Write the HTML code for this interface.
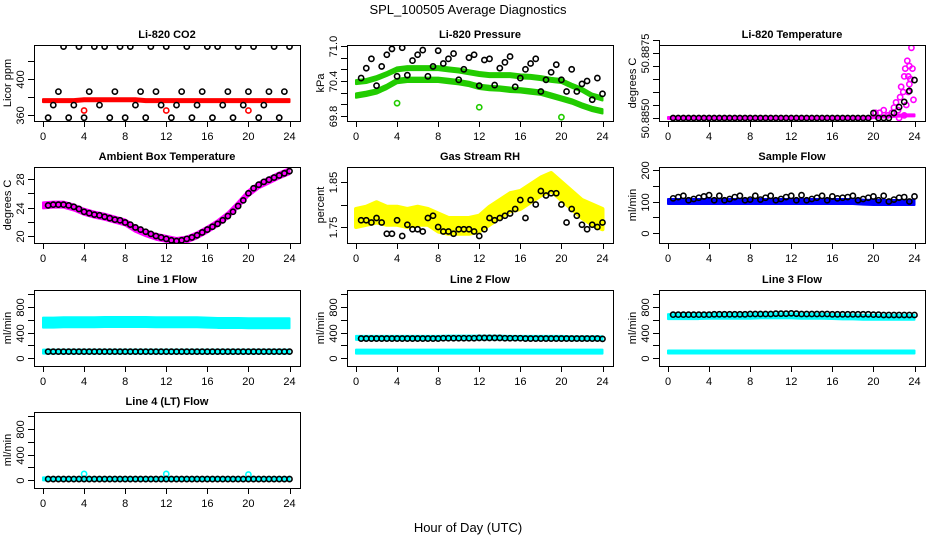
<!DOCTYPE html>
<html><head><meta charset="utf-8">
<style>
html,body{margin:0;padding:0;background:#fff;}
svg{display:block;font-family:"Liberation Sans",Arial,sans-serif;}
</style></head>
<body>
<svg id="chart" width="936" height="540" viewBox="0 0 936 540" xmlns="http://www.w3.org/2000/svg">
<rect width="936" height="540" fill="#fff"/>
<text x="468" y="14" text-anchor="middle" font-size="13">SPL_100505  Average Diagnostics</text>
<text x="468" y="532" text-anchor="middle" font-size="13">Hour of Day (UTC)</text>
</svg>
<script>
// ---------- data ----------
const xTicks = [0,4,8,12,16,20,24];
const bandHours = [0,1,2,3,4,5,6,7,8,9,10,11,12,13,14,15,16,17,18,19,20,21,22,23,24];
const pointHours = [0.5,1,1.5,2,2.5,3,3.5,4,4.5,5,5.5,6,6.5,7,7.5,8,8.5,9,9.5,10,10.5,11,11.5,12,12.5,13,13.5,14,14.5,15,15.5,16,16.5,17,17.5,18,18.5,19,19.5,20,20.5,21,21.5,22,22.5,23,23.5,24];

// CO2
const co2Band = [376,376,376,376,377,377,377,377,377,377,376,376,376,376,376,376,376,376,376,376,376,376,376,376,376];
const co2Black = [357,371,386,436,357,371,436,357,386,436,371,436,357,386,436,357,436,371,386,357,436,386,371,436,357,371,386,436,357,371,386,436,357,436,371,386,357,436,371,386,436,357,371,386,436,357,386,436];
const co2RedHours = [4,12,20];
const co2RedVals = [365,365,365];

// Pressure
const presUpper = [70.38,70.4,70.45,70.52,70.6,70.62,70.62,70.62,70.62,70.6,70.58,70.55,70.52,70.5,70.5,70.5,70.48,70.47,70.45,70.42,70.4,70.32,70.25,70.15,70.1];
const presLower = [70.15,70.18,70.22,70.3,70.4,70.42,70.42,70.42,70.42,70.4,70.38,70.35,70.3,70.28,70.27,70.25,70.24,70.22,70.2,70.15,70.1,70.05,69.98,69.92,69.88];
const presBlack = [70.45,70.62,70.78,70.32,70.65,70.85,70.95,70.48,70.97,70.5,70.75,70.85,70.93,70.48,70.65,70.92,70.7,70.78,70.87,70.42,70.6,70.8,70.85,70.32,70.76,70.78,70.33,70.62,70.72,70.82,70.3,70.45,70.6,70.7,70.78,70.22,70.42,70.55,70.68,70.42,70.22,70.6,70.22,70.35,70.4,70.08,70.45,70.18];
const presGreenHours = [4,12,20];
const presGreenVals = [70.02,69.95,69.78];

// Li-820 temperature
const tempBase = [50.8850,50.8850,50.8850,50.8850,50.8850,50.8850,50.8850,50.8850,50.8850,50.8850,50.8850,50.8850,50.8850,50.8850,50.8850,50.8850,50.8850,50.8850,50.8850,50.8850,50.88503,50.88506,50.88508,50.8851,50.8851];
const tempMagHours = [20.2,20.6,21,21.4,21.8,22,22.2,22.4,22.6,22.7,22.9,23,23.1,23.2,23.3,23.4,23.5,23.5,23.6,23.7,23.8,23.9,22.5,23.0,23.4,23.6];
const tempMagVals = [50.8852,50.8852,50.8853,50.8851,50.8852,50.8854,50.8856,50.8853,50.8858,50.8862,50.8860,50.8866,50.8869,50.8855,50.8872,50.8866,50.8863,50.8870,50.8879,50.8877,50.8869,50.8857,50.8850,50.8851,50.8860,50.8865];
const tempBlack = [50.8850,50.8850,50.8850,50.8850,50.8850,50.8850,50.8850,50.8850,50.8850,50.8850,50.8850,50.8850,50.8850,50.8850,50.8850,50.8850,50.8850,50.8850,50.8850,50.8850,50.8850,50.8850,50.8850,50.8850,50.8850,50.8850,50.8850,50.8850,50.8850,50.8850,50.8850,50.8850,50.8850,50.8850,50.8850,50.8850,50.8850,50.8850,50.8850,50.88519,50.8850,50.8850,50.8850,50.88519,50.88542,50.88562,50.88604,50.88646];

// Ambient box temperature
const ambBand = [24.3,24.4,24.4,24.0,23.4,23.0,22.7,22.3,21.9,21.0,20.4,19.9,19.6,19.3,19.5,20.1,20.9,21.8,22.9,24.4,26.0,27.1,27.8,28.5,29.1];
const ambBlack = [24.3,24.4,24.4,24.4,24.3,24.1,23.8,23.4,23.2,23.0,22.9,22.7,22.5,22.3,22.2,21.9,21.6,21.2,20.9,20.6,20.3,20.0,19.8,19.6,19.4,19.3,19.4,19.6,19.8,20.1,20.5,20.9,21.3,21.7,22.2,22.8,23.4,24.2,25.0,26.0,26.7,27.2,27.6,27.9,28.2,28.5,28.8,29.1];

// Gas stream RH
const rhUpper = [1.79,1.795,1.805,1.795,1.795,1.79,1.795,1.79,1.78,1.77,1.77,1.77,1.775,1.795,1.81,1.825,1.83,1.845,1.86,1.87,1.85,1.83,1.81,1.8,1.79];
const rhLower = [1.75,1.755,1.76,1.755,1.755,1.75,1.755,1.755,1.74,1.735,1.735,1.735,1.74,1.755,1.77,1.785,1.79,1.805,1.82,1.83,1.81,1.79,1.77,1.755,1.745];
const rhBlack = [1.765,1.765,1.76,1.77,1.76,1.735,1.735,1.765,1.73,1.755,1.745,1.745,1.74,1.77,1.775,1.75,1.74,1.74,1.735,1.745,1.745,1.745,1.74,1.73,1.745,1.77,1.765,1.77,1.775,1.78,1.79,1.81,1.77,1.81,1.8,1.83,1.82,1.825,1.825,1.8,1.76,1.79,1.775,1.755,1.745,1.755,1.75,1.76];

// Sample flow
const sampBand = [100,100,100,100,100,100,100,100,100,100,100,100,100,100,100,100,100,100,100,98,97,97,97,97,97];
const sampBlack = [110,114,118,104,108,112,116,120,104,118,104,108,114,118,104,106,118,106,112,118,104,108,114,118,104,120,104,108,112,118,104,116,110,112,114,118,104,108,112,116,104,118,100,106,112,114,100,116];

// Line flows
const l1High = [555,555,560,560,560,560,565,565,565,565,565,560,560,560,560,560,555,550,550,550,545,545,545,545,545];
const l1Low = [100,100,100,100,100,100,100,100,100,100,100,100,100,100,100,100,100,100,100,100,100,100,100,100,100];
const l1Black = Array(48).fill(100);
const l2High = [315,315,315,315,315,315,315,315,315,320,320,320,320,320,320,315,315,315,315,315,315,310,310,310,310];
const l2Low = [100,100,100,100,100,100,100,100,100,100,100,100,100,100,100,100,100,100,100,100,100,100,100,100,100];
const l2Black = [305,305,305,305,305,305,305,305,305,305,305,305,305,305,305,305,310,310,310,310,310,310,310,315,315,315,315,315,310,310,310,310,305,305,305,305,305,305,305,305,305,305,305,305,305,305,305,300];
const l3High = [650,650,650,650,655,655,655,655,655,660,660,660,660,655,655,655,650,645,645,640,640,640,640,640,640];
const l3Low = [95,95,95,95,95,95,95,95,95,95,95,95,95,95,95,95,95,95,95,95,95,95,95,95,95];
const l3Black = [680,680,680,680,680,680,680,680,685,685,685,685,685,685,685,690,690,690,690,690,695,695,695,700,695,690,690,690,690,690,690,685,685,685,685,685,685,685,685,680,680,675,675,675,675,675,675,675];
const l4Band = [18,18,18,18,18,18,18,18,18,18,18,18,18,18,18,18,18,18,18,18,18,18,18,18,18];
const l4Black = Array(48).fill(15);
const l4OutHours = [4,12,20];
const l4OutVals = [95,95,85];

// ---------- drawing ----------
const svg = document.getElementById('chart');
const NS = 'http://www.w3.org/2000/svg';
const colLeft = [34,347,659], rowTop = [45,167,290,412], BW = 266, BH = 76;
function mk(tag, attrs, parent){const e=document.createElementNS(NS,tag);for(const k in attrs)e.setAttribute(k,attrs[k]);(parent||svg).appendChild(e);return e;}

function makePanel(name, col, row, title, ylab, a1, a2, ticks, labels){
  const L=colLeft[col], T=rowTop[row];
  const g=mk('g',{});
  
  
  const xs=t=>L+9+t*(246.5/24);
  const ys=v=>T+a1[1]+(v-a1[0])*(a2[1]-a1[1])/(a2[0]-a1[0]);
  const clip='clip-'+name;
  const cp=mk('clipPath',{id:clip},g); mk('rect',{x:L,y:T,width:BW,height:BH},cp);
  const plot=mk('g',{'clip-path':'url(#'+clip+')'},g);
  
  
  const box=mk('rect',{x:L+0.5,y:T+0.5,width:BW,height:BH,fill:'none',stroke:'#000','stroke-width':1},g);
  
  
  const tt=mk('text',{x:L+BW/2,y:T-7,'text-anchor':'middle','font-size':11,'font-weight':'bold'},g);
  tt.textContent=title;
  
  
  const xa=mk('g',{},g);
  
  
  mk('line',{x1:xs(0),x2:xs(24),y1:T+BH+0.5,y2:T+BH+0.5,stroke:'#000'},xa);
  xTicks.forEach(t=>{
    mk('line',{x1:Math.round(xs(t))+0.5,x2:Math.round(xs(t))+0.5,y1:T+BH,y2:T+BH+6,stroke:'#000'},xa);
    const tx=mk('text',{x:xs(t),y:T+BH+19,'text-anchor':'middle','font-size':11},xa);
    tx.textContent=t;
    
    
  });
  const ya=mk('g',{},g);
  
  
  mk('line',{x1:L+0.5,x2:L+0.5,y1:ys(ticks[0]),y2:ys(ticks[ticks.length-1]),stroke:'#000'},ya);
  ticks.forEach((v,i)=>{
    const y=Math.round(ys(v))+0.5;
    mk('line',{x1:L-6,x2:L,y1:y,y2:y,stroke:'#000'},ya);
    if(labels[i]){
      const tx=mk('text',{x:0,y:0,'text-anchor':'middle','font-size':11,transform:`translate(${L-10},${y}) rotate(-90)`},ya);
      tx.textContent=labels[i];
      
      
    }
  });
  const yl=mk('text',{x:0,y:0,'text-anchor':'middle','font-size':11,transform:`translate(${L-23},${T+BH/2}) rotate(-90)`},g);
  yl.textContent=ylab;
  
  
  return {plot,xs,ys};
}
function band(p, hours, up, lo, color, name){
  const pts=hours.map((h,i)=>p.xs(h)+','+p.ys(up[i])).concat(hours.map((h,i)=>p.xs(h)+','+p.ys(lo[i])).reverse());
  const e=mk('polygon',{points:pts.join(' '),fill:color,stroke:color,'stroke-width':4,'stroke-linejoin':'round'},p.plot);
  
  
}
function thick(p, hours, vals, halfPx, color, name){
  const pts1=hours.map((h,i)=>p.xs(h)+','+(p.ys(vals[i])-halfPx));
  const pts2=hours.map((h,i)=>p.xs(h)+','+(p.ys(vals[i])+halfPx)).reverse();
  const e=mk('polygon',{points:pts1.concat(pts2).join(' '),fill:color,stroke:color,'stroke-width':2,'stroke-linejoin':'round'},p.plot);
  
  
}
function pts(p, hours, vals, color, name){
  hours.forEach((h,i)=>{
    const c=mk('circle',{cx:p.xs(h),cy:p.ys(vals[i]),r:2.6,fill:'none',stroke:color,'stroke-width':1.6},p.plot);
    
    
  });
}

let p=makePanel('co2-panel',0,0,'Li-820 CO2','Licor ppm',[360,70],[400,34],[360,380,400,420],['360','','400','']);
thick(p,bandHours,co2Band,1.5,'#ff0000','co2-red-band');
pts(p,co2RedHours,co2RedVals,'#ff0000','co2-red-point');
pts(p,pointHours,co2Black,'#000','co2-black-point');

p=makePanel('pressure-panel',1,0,'Li-820 Pressure','kPa',[69.8,71],[71.0,1],[69.8,70.0,70.2,70.4,70.6,70.8,71.0],['69.8','','','70.4','','','71.0']);
thick(p,bandHours,presUpper,2,'#22cc00','pressure-upper-band');
thick(p,bandHours,presLower,2.2,'#22cc00','pressure-lower-band');
pts(p,presGreenHours,presGreenVals,'#22cc00','pressure-green-point');
pts(p,pointHours,presBlack,'#000','pressure-black-point');

p=makePanel('li820-temperature-panel',2,0,'Li-820 Temperature','degrees C',[50.8850,73],[50.8875,8],[50.8850,50.8855,50.8860,50.8865,50.8870,50.8875,50.8880],['50.8850','','','','','50.8875','']);
thick(p,bandHours,tempBase,1,'#ff00ff','temperature-magenta-band');
pts(p,tempMagHours,tempMagVals,'#ff00ff','temperature-magenta-point');
pts(p,pointHours,tempBlack,'#000','temperature-black-point');

p=makePanel('ambient-temperature-panel',0,1,'Ambient Box Temperature','degrees C',[20,69],[28,12],[20,22,24,26,28],['20','','24','','28']);
thick(p,bandHours,ambBand,3,'#ff00ff','ambient-magenta-band');
pts(p,pointHours,ambBlack,'#000','ambient-black-point');

p=makePanel('rh-panel',1,1,'Gas Stream RH','percent',[1.75,60],[1.85,15],[1.75,1.80,1.85],['1.75','','1.85']);
band(p,bandHours,rhUpper,rhLower,'#ffff00','rh-yellow-band');
pts(p,pointHours,rhBlack,'#000','rh-black-point');

p=makePanel('sample-flow-panel',2,1,'Sample Flow','ml/min',[0,66],[200,3],[0,50,100,150,200],['0','','100','','200']);
thick(p,bandHours,sampBand,2.5,'#0000ff','sample-blue-band');
pts(p,pointHours,sampBlack,'#000','sample-black-point');

const flowTicks=[0,200,400,600,800,1000], flowLabels=['0','','400','','800',''];
p=makePanel('line1-flow-panel',0,2,'Line 1 Flow','ml/min',[0,68],[800,17],flowTicks,flowLabels);
thick(p,bandHours,l1High,5,'#00ffff','line1-high-band');
thick(p,bandHours,l1Low,2,'#00ffff','line1-low-band');
pts(p,pointHours,l1Black,'#000','line1-black-point');

p=makePanel('line2-flow-panel',1,2,'Line 2 Flow','ml/min',[0,68],[800,17],flowTicks,flowLabels);
thick(p,bandHours,l2High,2,'#00ffff','line2-high-band');
thick(p,bandHours,l2Low,2,'#00ffff','line2-low-band');
pts(p,pointHours,l2Black,'#000','line2-black-point');

p=makePanel('line3-flow-panel',2,2,'Line 3 Flow','ml/min',[0,68],[800,17],flowTicks,flowLabels);
thick(p,bandHours,l3High,2.5,'#00ffff','line3-high-band');
thick(p,bandHours,l3Low,1.5,'#00ffff','line3-low-band');
pts(p,pointHours,l3Black,'#000','line3-black-point');

p=makePanel('line4-flow-panel',0,3,'Line 4 (LT) Flow','ml/min',[0,68],[800,17],flowTicks,flowLabels);
thick(p,bandHours,l4Band,1.5,'#00ffff','line4-cyan-band');
pts(p,l4OutHours,l4OutVals,'#00ffff','line4-cyan-point');
pts(p,pointHours,l4Black,'#000','line4-black-point');
</script>
</body></html>
